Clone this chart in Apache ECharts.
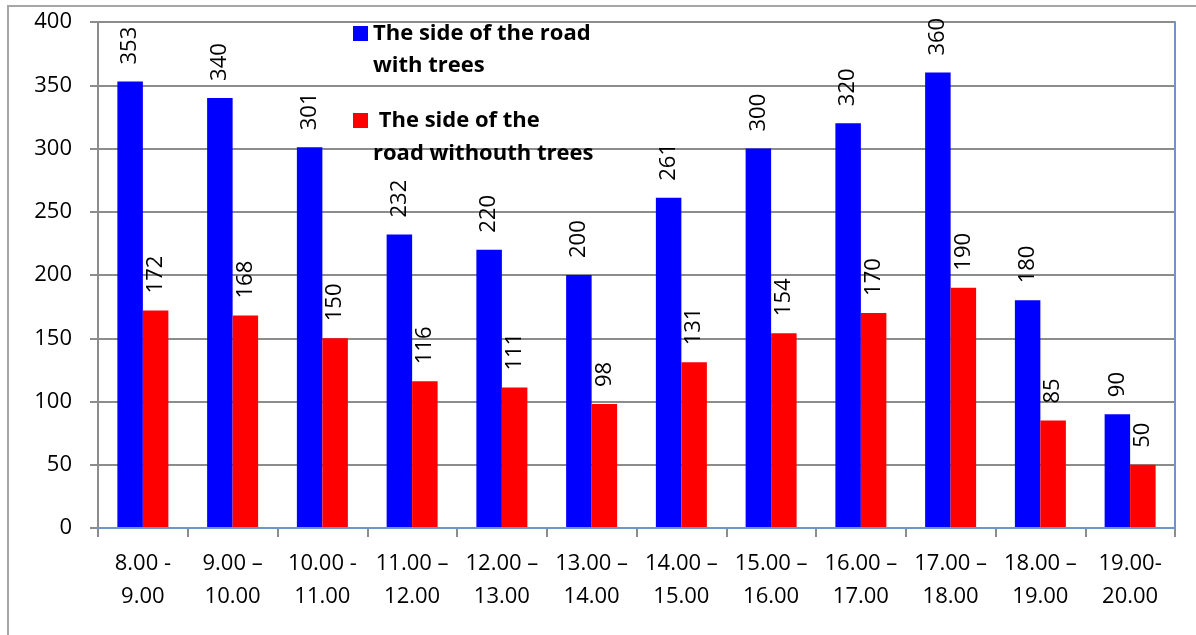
<!DOCTYPE html>
<html>
<head>
<meta charset="utf-8">
<script src="https://cdn.jsdelivr.net/npm/echarts@6/dist/echarts.min.js"></script>
<style>
  html, body { margin: 0; padding: 0; background: #fff; }
  #frame { position: absolute; left: 7px; top: 5px; width: 1300px; height: 800px; border: 2px solid #a6a6a6; box-sizing: border-box; }
  #chart { position: absolute; left: 0; top: 0; width: 1196px; height: 635px; }
</style>
</head>
<body>
<div id="frame"></div>
<div id="chart"></div>
<script>
// Hourly counts on both sides of the road
const timeSlots = [
  '8.00 -\n9.00', '9.00 \u2013\n10.00', '10.00 -\n11.00', '11.00 \u2013\n12.00',
  '12.00 \u2013\n13.00', '13.00 \u2013\n14.00', '14.00 \u2013\n15.00', '15.00 \u2013\n16.00',
  '16.00 \u2013\n17.00', '17.00 \u2013\n18.00', '18.00 \u2013\n19.00', '19.00-\n20.00'
];
const withTrees = [353, 340, 301, 232, 220, 200, 261, 300, 320, 360, 180, 90];
const withoutTrees = [172, 168, 150, 116, 111, 98, 131, 154, 170, 190, 85, 50];

const seriesNameA = 'The side of the road with trees';
const seriesNameB = 'The side of the road withouth trees';
// a leading blank line keeps the first text line level with the legend swatch
const legendTextA = '\nThe side of the road\nwith trees';
const legendTextB = '\n The side of the\nroad withouth trees';

const FONT = 'Open Sans';
const GRID_GRAY = '#8c8c8c';
const FRAME_BLUE = '#6f95c8';

const chart = echarts.init(document.getElementById('chart'), null, { renderer: 'canvas' });

const barLabel = {
  show: true,
  position: 'top',
  rotate: 90,
  align: 'left',
  verticalAlign: 'middle',
  distance: 17,
  fontFamily: FONT,
  fontSize: 22,
  color: '#000'
};

chart.setOption({
  animation: false,
  backgroundColor: 'transparent',
  grid: { left: 98, right: 21, top: 22, bottom: 107, containLabel: false },
  legend: [
    {
      data: [seriesNameA],
      orient: 'vertical',
      left: 353, top: -14.5, padding: 0,
      icon: 'rect', itemWidth: 15, itemHeight: 15,
      formatter: () => legendTextA,
      textStyle: { fontFamily: FONT, fontWeight: 'bold', fontSize: 22, lineHeight: 32, color: '#000' }
    },
    {
      data: [seriesNameB],
      orient: 'vertical',
      left: 353, top: 71, padding: 0,
      icon: 'rect', itemWidth: 15, itemHeight: 15,
      formatter: () => legendTextB,
      textStyle: { fontFamily: FONT, fontWeight: 'bold', fontSize: 22, lineHeight: 33, color: '#000' }
    }
  ],
  xAxis: [
    {
      type: 'category',
      data: timeSlots,
      boundaryGap: true,
      axisLine: { lineStyle: { color: GRID_GRAY, width: 2 } },
      axisTick: { show: true, interval: 0, length: 9, lineStyle: { color: GRID_GRAY, width: 2 } },
      axisLabel: { interval: 0, margin: 19, fontFamily: FONT, fontSize: 22, lineHeight: 33, color: '#000' }
    },
    {
      type: 'category',
      data: timeSlots,
      position: 'top',
      z: 5,
      axisLine: { show: true, lineStyle: { color: FRAME_BLUE, width: 2 } },
      axisTick: { show: false },
      axisLabel: { show: false }
    }
  ],
  yAxis: [
    {
      type: 'value',
      min: 0, max: 400, interval: 50,
      axisLine: { show: true, lineStyle: { color: GRID_GRAY, width: 2 } },
      axisTick: { show: true, length: 8, lineStyle: { color: GRID_GRAY, width: 2 } },
      axisLabel: { margin: 26, fontFamily: FONT, fontSize: 22, color: '#000' },
      splitLine: { show: true, lineStyle: { color: GRID_GRAY, width: 2 } }
    },
    {
      type: 'value',
      min: 0, max: 400, interval: 50,
      position: 'right',
      z: 5,
      axisLine: { show: true, lineStyle: { color: FRAME_BLUE, width: 2 } },
      axisTick: { show: false },
      axisLabel: { show: false },
      splitLine: { show: false }
    }
  ],
  series: [
    {
      name: seriesNameA,
      type: 'bar',
      data: withTrees,
      barWidth: 25.5,
      barGap: '0%',
      itemStyle: { color: '#0000ff' },
      label: barLabel
    },
    {
      name: seriesNameB,
      type: 'bar',
      data: withoutTrees,
      barWidth: 25.5,
      barGap: '0%',
      itemStyle: { color: '#ff0000' },
      label: barLabel
    }
  ]
});
</script>
</body>
</html>
